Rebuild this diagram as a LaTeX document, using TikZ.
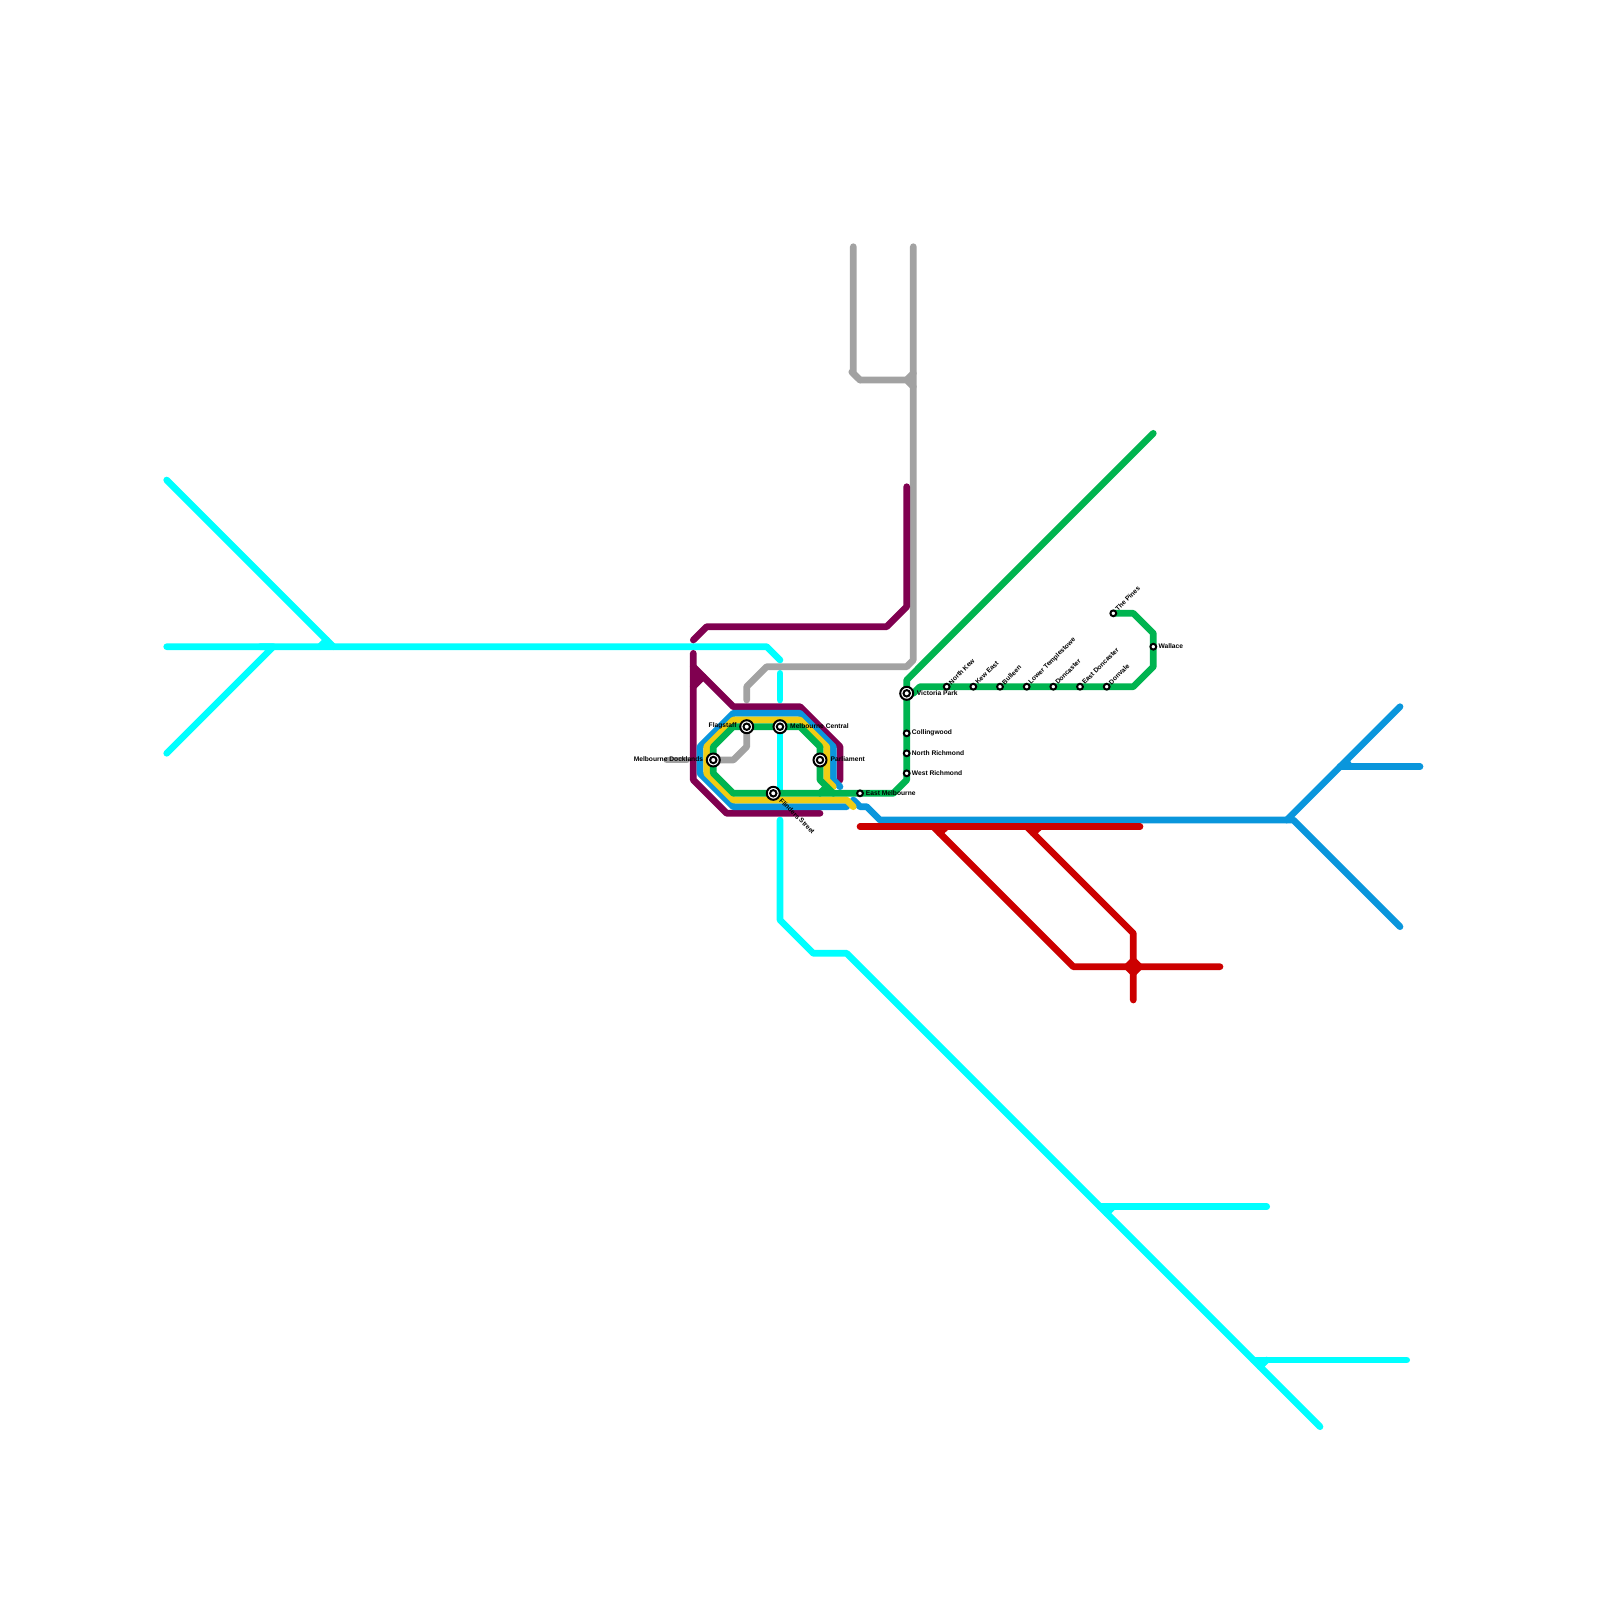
\documentclass[tikz,border=0pt]{standalone}
\usepackage{fontspec}
\setmainfont{Liberation Sans}
\definecolor{cCyan}{HTML}{00FFFF}
\definecolor{cGrey}{HTML}{A2A2A2}
\definecolor{cPurple}{HTML}{800050}
\definecolor{cBlue}{HTML}{0A96DC}
\definecolor{cYellow}{HTML}{F0CD14}
\definecolor{cGreen}{HTML}{00B450}
\definecolor{cRed}{HTML}{CC0000}
\tikzset{
  rail/.style={line width=6.67pt,line cap=round,line join=round},
  cyanline/.style={rail,draw=cCyan},
  greyline/.style={rail,draw=cGrey},
  purpleline/.style={rail,draw=cPurple},
  blueline/.style={rail,draw=cBlue},
  yellowline/.style={rail,draw=cYellow},
  greenline/.style={rail,draw=cGreen},
  redline/.style={rail,draw=cRed},
  smallstop/.style={circle,draw=black,fill=white,line width=2pt,minimum size=5.8pt,inner sep=0pt},
  bigstop/.style={circle,draw=black,fill=white,line width=2pt,minimum size=13pt,inner sep=0pt,
    path picture={\draw[black,line width=2pt] (path picture bounding box.center) circle (3.2pt);}},
  lab/.style={font=\bfseries\fontsize{6.67}{7}\selectfont,text=black,inner sep=0pt},
}
\begin{document}
\begin{tikzpicture}[x=1pt,y=-1pt]
\useasboundingbox (0,0) rectangle (1600,1600);
\fill[white] (0,0) rectangle (1600,1600);
% station positions
\coordinate (pVic) at (906.7,693.3);
\coordinate (pCol) at (906.7,733.3);
\coordinate (pNRi) at (906.7,753.3);
\coordinate (pWRi) at (906.7,773.3);
\coordinate (pNKe) at (946.7,686.7);
\coordinate (pKeE) at (973.3,686.7);
\coordinate (pBul) at (1000,686.7);
\coordinate (pLTe) at (1026.7,686.7);
\coordinate (pDon) at (1053.3,686.7);
\coordinate (pEDo) at (1080,686.7);
\coordinate (pDve) at (1106.7,686.7);
\coordinate (pWal) at (1153.3,646.7);
\coordinate (pPin) at (1113.3,613.3);
\coordinate (pFla) at (746.7,726.7);
\coordinate (pMel) at (780,726.7);
\coordinate (pPar) at (820,760);
\coordinate (pDoc) at (713.3,760);
\coordinate (pFli) at (773.3,793.3);
\coordinate (pEMe) at (860,793.3);
% line ends and junctions
\coordinate (jCyanW) at (166.7,646.7);
\coordinate (jCyanA) at (333.3,646.7);
\coordinate (jCyanB) at (273.3,646.7);
\coordinate (jCyan1) at (1100,1206.7);
\coordinate (jCyan2) at (1253.3,1360);
\coordinate (jBlueX) at (1293.3,820);
\coordinate (jBlueY) at (1340,766.7);
\coordinate (jRedA) at (933.3,826.7);
\coordinate (jRedB) at (1026.7,826.7);
\coordinate (jRedC) at (1133.3,966.7);
\coordinate (jGreyA) at (906.7,380);
% cyan
\draw[cyanline] (jCyanW) -- (766.7,646.7) -- (780,660);
\draw[cyanline] (166.7,480) -- (jCyanA);
\draw[cyanline] (326.7,640) -- (320,646.7);
\draw[cyanline] (166.7,753.3) -- (jCyanB) -- (260,646.7);
\draw[cyanline] (780,673.3) -- (780,700);
\draw[cyanline] (pMel) -- (780,790);
\draw[cyanline] (780,820) -- (780,920) -- (813.3,953.3) -- (846.7,953.3) -- (1320,1426.7);
\draw[cyanline] (jCyan1) -- (1266.7,1206.7);
\draw[cyanline] (1106.7,1213.3) -- (1113.3,1206.7);
\draw[cyanline] (jCyan2) -- (1406.7,1360);
\draw[cyanline] (1260,1366.7) -- (1266.7,1360);
% grey
\draw[greyline] (853.3,246.7) -- (853.3,373.3) -- (860,380) -- (jGreyA) -- (913.3,386.7);
\draw[greyline] (851.8,372) -- (860,380);
\draw[greyline] (913.3,246.7) -- (913.3,660) -- (906.7,666.7) -- (766.7,666.7) -- (746.7,686.7) -- (746.7,700);
\draw[greyline] (jGreyA) -- (913.3,373.3);
\draw[greyline] (pFla) -- (746.7,746.7) -- (733.3,760) -- (pDoc);
\draw[greyline] (666.7,760) -- (686.7,760);
% purple
\draw[purpleline] (693.3,640) -- (706.7,626.7) -- (886.7,626.7) -- (906.7,606.7) -- (906.7,486.7);
\draw[purpleline] (693.3,653.3) -- (693.3,780) -- (726.7,813.3) -- (820,813.3);
\draw[purpleline] (693.3,666.7) -- (733.3,706.7) -- (800,706.7) -- (840,746.7) -- (840,780);
\draw[purpleline] (693.3,686.7) -- (703.3,676.7);
\fill[cPurple] (693.3,666.7) -- (703.3,676.7) -- (693.3,686.7) -- cycle;
% blue
\draw[blueline] (846.7,806.7) -- (733.3,806.7) -- (700,773.3) -- (700,746.7) -- (733.3,713.3) -- (800,713.3) -- (833.3,746.7) -- (833.3,780) -- (840,786.7);
\draw[blueline] (853.3,800) -- (860,806.7) -- (866.7,806.7) -- (880,820) -- (jBlueX) -- (1400,926.7);
\draw[blueline] (1400,706.7) -- (1286.7,820);
\draw[blueline] (jBlueY) -- (1420,766.7);
\draw[blueline] (1346.7,762) -- (1350,766.7);
% yellow
\draw[yellowline] (853.3,806.7) -- (846.7,800) -- (733.3,800) -- (706.7,773.3) -- (706.7,746.7) -- (733.3,720) -- (800,720) -- (826.7,746.7) -- (826.7,780) -- (833.3,786.7);
% green
\draw[greenline] (pFli) -- (733.3,793.3) -- (713.3,773.3) -- (pDoc) -- (713.3,746.7) -- (733.3,726.7) -- (pFla) -- (pMel) -- (800,726.7) -- (820,746.7) -- (pPar) -- (820,780) -- (833.3,793.3);
\draw[greenline] (820,793.3) -- (826.7,786.7);
\draw[greenline] (pFli) -- (pEMe) -- (893.3,793.3) -- (906.7,780) -- (pWRi) -- (pVic) -- (906.7,680) -- (1153.3,433.3);
\draw[greenline] (pVic) -- (913.3,693.3) -- (920,686.7) -- (pNKe) -- (pDve) -- (1133.3,686.7) -- (1153.3,666.7) -- (pWal) -- (1153.3,633.3) -- (1133.3,613.3) -- (pPin);
% red
\draw[redline] (860,826.7) -- (1140,826.7);
\draw[redline] (jRedA) -- (1073.3,966.7) -- (jRedC) -- (1220,966.7);
\draw[redline] (jRedB) -- (1133.3,933.3) -- (jRedC) -- (1133.3,1000);
\draw[redline] (939.5,833) -- (946.7,826.7);
\draw[redline] (1033,833) -- (1040,826.7);
\fill[cRed] (1133.3,955.7) -- (1144.3,966.7) -- (1133.3,977.7) -- (1122.3,966.7) -- cycle;
% stations
\node[bigstop] (sVic) at (pVic) {};
\node[bigstop] (sFla) at (pFla) {};
\node[bigstop] (sMel) at (pMel) {};
\node[bigstop] (sPar) at (pPar) {};
\node[bigstop] (sDoc) at (pDoc) {};
\node[bigstop] (sFli) at (pFli) {};
\foreach \n in {Col,NRi,WRi,NKe,KeE,Bul,LTe,Don,EDo,Dve,Wal,Pin,EMe}{\node[smallstop] (s\n) at (p\n) {};}
% labels
\node[lab,anchor=west] (tVic) at (916.7,692.7) {Victoria Park};
\node[lab,anchor=west] (tCol) at (911.7,733) {Collingwood};
\node[lab,anchor=west] (tNRi) at (911.7,752.7) {North Richmond};
\node[lab,anchor=west] (tWRi) at (911.7,772.7) {West Richmond};
\node[lab,anchor=west] (tEMe) at (865.7,792.7) {East Melbourne};
\node[lab,anchor=west] (tWal) at (1158.3,646) {Wallace};
\node[lab,anchor=east] (tFla) at (736.7,726.2) {Flagstaff};
\node[lab,anchor=west] (tMel) at (790,726.2) {Melbourne Central};
\node[lab,anchor=west] (tPar) at (830.5,759.3) {Parliament};
\node[lab,anchor=east] (tDoc) at (703.3,759.3) {Melbourne Docklands};
\node[lab,anchor=west,rotate=-45] (tFli) at (780.5,799.5) {Flinders Street};
\node[lab,anchor=west,rotate=45] (tNKe) at (949.7,683.5) {North Kew};
\node[lab,anchor=west,rotate=45] (tKeE) at (976.3,683.5) {Kew East};
\node[lab,anchor=west,rotate=45] (tBul) at (1003,683.5) {Bulleen};
\node[lab,anchor=west,rotate=45] (tLTe) at (1029.7,683.5) {Lower Templestowe};
\node[lab,anchor=west,rotate=45] (tDon) at (1056.3,683.5) {Doncaster};
\node[lab,anchor=west,rotate=45] (tEDo) at (1083,683.5) {East Doncaster};
\node[lab,anchor=west,rotate=45] (tDve) at (1109.7,683.5) {Donvale};
\node[lab,anchor=west,rotate=45] (tPin) at (1116.3,610.1) {The Pines};
\end{tikzpicture}
\end{document}
